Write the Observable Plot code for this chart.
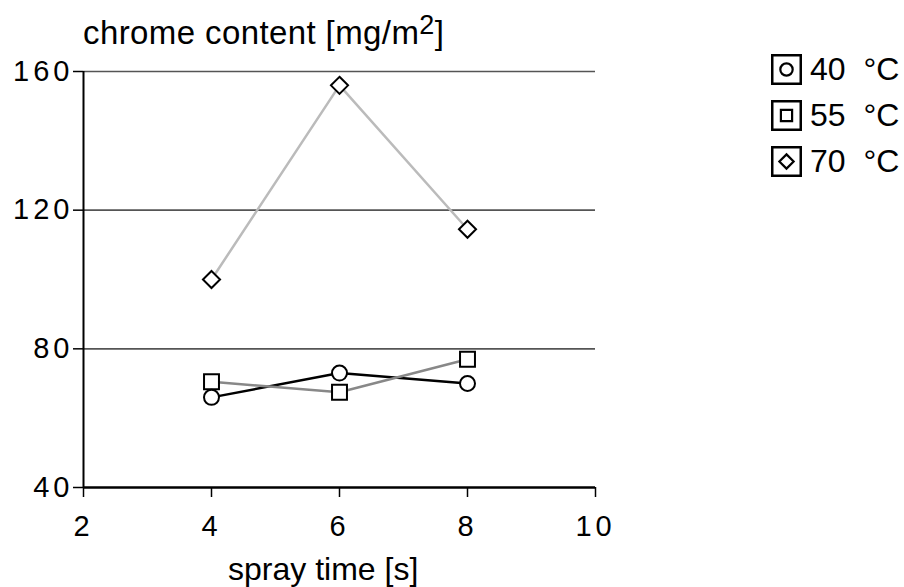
<!DOCTYPE html>
<html>
<head>
<meta charset="utf-8">
<script src="https://cdn.jsdelivr.net/npm/d3@7"></script>
<script src="https://cdn.jsdelivr.net/npm/@observablehq/plot@0.6"></script>
<style>
  html, body { margin: 0; padding: 0; background: #fff; }
  #wrap { position: relative; width: 904px; height: 587px; font-family: "Liberation Sans", Arial, sans-serif; }
  #title { position: absolute; left: 83px; top: 15px; font-size: 33px; line-height: 36px; letter-spacing: 0.4px; color: #000; white-space: nowrap; }
  #title sup { font-size: 27px; vertical-align: 0; position: relative; top: -10px; }
  #xlabel { position: absolute; left: 228px; top: 551px; font-size: 32px; line-height: 36px; color: #000; white-space: nowrap; }
  #legend { position: absolute; left: 771px; top: 54px; font-size: 32px; color: #000; }
  .row { display: flex; align-items: center; height: 31px; margin-bottom: 15px; white-space: pre; }
  .row svg { margin-right: 8px; }
</style>
</head>
<body>
<div id="wrap">
  <div id="title">chrome content [mg/m<sup>2</sup>]</div>
  <div id="xlabel">spray time [s]</div>
  <div id="legend"></div>
</div>
<script>
const times = [4, 6, 8];
const series = ["40  °C", "55  °C", "70  °C"];
const c40 = [66, 73, 70];
const c55 = [70.5, 67.5, 77];
const c70 = [100, 156, 114.5];
const lineColors = ["#000000", "#888888", "#bbbbbb"];
const symbols = ["circle", "square2", "diamond2"];
const symbolRadii = [7.5, 9.5, 7.7];
const yTicks = [40, 80, 120, 160];
const gridTicks = [80, 120, 160];
const xTicks = [2, 4, 6, 8, 10];

const values = [c40, c55, c70];
const data = [];
series.forEach((s, i) => times.forEach((t, j) => data.push({series: s, time: t, value: values[i][j], r: symbolRadii[i]})));

const chart = Plot.plot({
  width: 904,
  height: 587,
  marginLeft: 83,
  marginRight: 309,
  marginTop: 71,
  marginBottom: 100,
  style: {fontFamily: "Liberation Sans, Arial, sans-serif", color: "#000", background: "transparent"},
  x: {domain: [2, 10]},
  y: {domain: [40, 160]},
  r: {type: "identity"},
  color: {domain: series, range: lineColors},
  symbol: {domain: series, range: symbols},
  marks: [
    Plot.ruleY(gridTicks, {stroke: "#555", strokeWidth: 1.6}),
    Plot.ruleX([2], {y1: 40, y2: 160, stroke: "#000", strokeWidth: 2}),
    Plot.ruleY([40], {stroke: "#000", strokeWidth: 2.5}),
    Plot.axisY({ticks: yTicks, tickSize: 10, tickPadding: 0, tickFormat: d => String(d), label: null, stroke: "#000", strokeOpacity: 1, strokeWidth: 1.5}),
    Plot.axisX({ticks: xTicks, tickSize: 10, tickPadding: 18, tickFormat: d => String(d), label: null, stroke: "#000", strokeOpacity: 1, strokeWidth: 1.5}),
    Plot.line(data, {x: "time", y: "value", z: "series", stroke: "series", strokeWidth: 2.5}),
    Plot.dot(data, {x: "time", y: "value", symbol: "series", r: "r", fill: "white", stroke: "#000", strokeWidth: 2})
  ]
});
document.getElementById("wrap").appendChild(chart);
chart.style.position = "absolute";
chart.style.left = "0";
chart.style.top = "0";

// enlarge axis text
const svg = d3.select(chart);
svg.selectAll("[aria-label='y-axis tick label'] text, [aria-label='x-axis tick label'] text")
  .attr("font-size", 29).style("font-size", "29px").style("letter-spacing", "4px");
svg.selectAll("[aria-label='y-axis tick label'], [aria-label='x-axis tick label']")
  .attr("font-size", 29).style("font-size", "29px");

const legend = document.getElementById("legend");
series.forEach((s, i) => {
  const row = document.createElement("div");
  row.className = "row";
  const sw = d3.create("svg").attr("width", 31).attr("height", 31);
  sw.append("rect").attr("x", 1.25).attr("y", 1.25).attr("width", 28.5).attr("height", 28.5).attr("fill", "white").attr("stroke", "#000").attr("stroke-width", 2.5);
  const sym = [d3.symbolCircle, d3.symbolSquare2, d3.symbolDiamond2][i];
  const size = [120, 160, 130][i];
  sw.append("path").attr("transform", "translate(15.5,15.5)").attr("d", d3.symbol(sym, size)()).attr("fill", "none").attr("stroke", "#000").attr("stroke-width", 2.2);
  row.appendChild(sw.node());
  const t = document.createElement("span");
  t.textContent = s;
  row.appendChild(t);
  legend.appendChild(row);
});
</script>
</body>
</html>
